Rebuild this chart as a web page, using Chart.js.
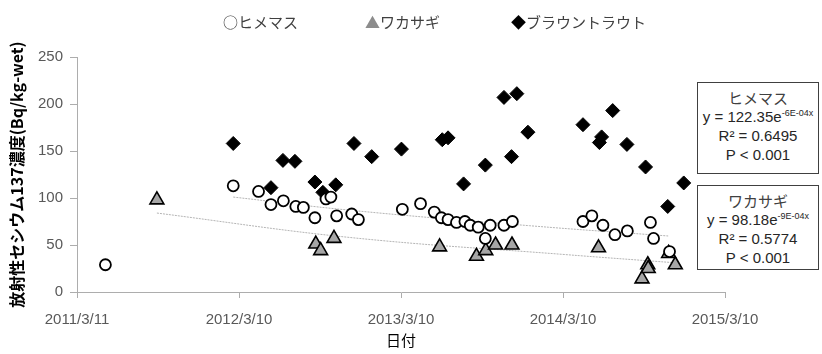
<!DOCTYPE html>
<html lang="ja">
<head>
<meta charset="utf-8">
<title>放射性セシウム137濃度</title>
<script src="https://cdn.jsdelivr.net/npm/chart.js@4.4.0/dist/chart.umd.min.js"></script>
<style>
  body { margin: 0; background: #fff; }
  #wrap { position: relative; width: 822px; height: 354px; }
  .legend-item {
    position: absolute; top: 11px; line-height: 22px; white-space: nowrap;
    font-family: 'Noto Sans CJK JP', sans-serif; font-size: 15px; color: #404040;
  }
  .fit-box {
    position: absolute; left: 697px; width: 122px; box-sizing: border-box;
    border: 1px solid #404040; background: #fff; text-align: center;
    font-family: 'Liberation Sans', Arial, sans-serif; font-size: 15px; color: #262626;
    padding-top: 5px;
  }
  .fit-box div { line-height: 19px; height: 19px; white-space: nowrap; }
  .fit-box .jp { font-family: 'Noto Sans CJK JP', sans-serif; color: #404040; }
  .fit-box sup { font-size: 9px; line-height: 0; vertical-align: 6px; }
</style>
</head>
<body>
<div id="wrap">
  <canvas id="chart" width="822" height="354"></canvas>

  <div class="legend-item" style="left:223px;">○ヒメマス</div>
  <div class="legend-item" style="left:365px;"><span style="color:#8c8c8c;">▲</span>ワカサギ</div>
  <div class="legend-item" style="left:511px;"><span style="color:#000;">◆</span>ブラウントラウト</div>

  <div class="fit-box" style="top:82px; height:92px;">
    <div class="jp">ヒメマス</div>
    <div>y = 122.35e<sup>-6E-04x</sup></div>
    <div>R² = 0.6495</div>
    <div>P &lt; 0.001</div>
  </div>
  <div class="fit-box" style="top:185px; height:85px;">
    <div class="jp">ワカサギ</div>
    <div>y = 98.18e<sup>-9E-04x</sup></div>
    <div>R² = 0.5774</div>
    <div>P &lt; 0.001</div>
  </div>
</div>

<script>
// x values are days after 2011/3/11
const tickLabels = ['2011/3/11', '2012/3/10', '2013/3/10', '2014/3/10', '2015/3/10'];

// ヒメマス (open circles)
const himeDays   = [64, 352, 409, 437, 465, 493, 510, 536, 561, 572, 585, 619, 634, 733, 774, 805, 821, 836,
                    855, 874, 886, 904, 920, 931, 962, 981, 1140, 1160, 1185, 1212, 1240, 1292, 1299, 1335];
const himeValues = [29, 113, 107, 93, 97, 91, 90, 79, 99, 101, 81, 83, 77, 88, 94, 85, 79, 77,
                    74, 75, 71, 69, 57, 71, 71, 75, 75, 81, 71, 61, 65, 74, 57, 43];

// ワカサギ (grey triangles)
const wakaDays   = [180, 538, 549, 579, 817, 900, 921, 943, 980, 1175, 1273, 1286, 1287, 1333, 1348];
const wakaValues = [98, 51, 44, 57, 48, 38, 44, 50, 50, 47, 14, 29, 25, 41, 29];

// ブラウントラウト (black diamonds)
const troutDays   = [352, 437, 464, 491, 536, 554, 583, 624, 664, 731, 823, 836, 871, 920, 962, 979, 991,
                     1016, 1140, 1177, 1182, 1207, 1239, 1281, 1331, 1367];
const troutValues = [158, 111, 140, 139, 117, 106, 114, 158, 144, 152, 162, 164, 115, 135, 207, 144, 211,
                     170, 178, 159, 165, 193, 157, 133, 91, 116];

// exponential trend lines
const himeTrendDays   = [352, 615, 1020, 1332];
const himeTrendValues = [101, 87, 70.5, 59.6];
const wakaTrendDays   = [180, 615, 1095, 1350];
const wakaTrendValues = [84, 58, 40, 31];

const toPoints = (xs, ys) => xs.map((x, i) => ({ x, y: ys[i] }));

const AXIS_GREY = '#ADADAD';
const TICK_FONT = { family: "'Liberation Sans', Arial, sans-serif", size: 15 };

new Chart(document.getElementById('chart'), {
  type: 'scatter',
  data: {
    datasets: [
      {
        label: 'ヒメマス',
        data: toPoints(himeDays, himeValues),
        pointStyle: 'circle',
        pointRadius: 5.5,
        pointBackgroundColor: '#fff',
        pointBorderColor: '#000',
        pointBorderWidth: 1.8
      },
      {
        label: 'ワカサギ',
        data: toPoints(wakaDays, wakaValues),
        pointStyle: 'triangle',
        pointRadius: 8,
        pointBackgroundColor: '#A6A6A6',
        pointBorderColor: '#000',
        pointBorderWidth: 1.6
      },
      {
        label: 'ブラウントラウト',
        data: toPoints(troutDays, troutValues),
        pointStyle: 'rectRot',
        pointRadius: 7,
        pointBackgroundColor: '#000',
        pointBorderColor: '#000',
        pointBorderWidth: 1
      },
      {
        label: 'ヒメマス trend',
        type: 'line',
        data: toPoints(himeTrendDays, himeTrendValues),
        borderColor: '#B4B4B4',
        borderWidth: 1,
        borderDash: [2, 1],
        pointRadius: 0,
        tension: 0.4,
        fill: false
      },
      {
        label: 'ワカサギ trend',
        type: 'line',
        data: toPoints(wakaTrendDays, wakaTrendValues),
        borderColor: '#B4B4B4',
        borderWidth: 1,
        borderDash: [2, 1],
        pointRadius: 0,
        tension: 0.4,
        fill: false
      }
    ]
  },
  options: {
    responsive: false,
    animation: false,
    layout: { padding: { top: 57, right: 97, bottom: 0, left: 0 } },
    plugins: {
      legend: { display: false },
      tooltip: { enabled: false }
    },
    scales: {
      x: {
        type: 'linear',
        min: 0,
        max: 1460,
        afterFit: (scale) => { scale.height = 62; },
        border: { display: true, color: AXIS_GREY, width: 1 },
        grid: { drawOnChartArea: false, drawTicks: true, tickLength: 6, color: AXIS_GREY },
        ticks: {
          stepSize: 365,
          padding: 13,
          color: '#595959',
          font: TICK_FONT,
          maxRotation: 0,
          callback: (v) => tickLabels[Math.round(v / 365)]
        },
        title: {
          display: true,
          text: '日付',
          color: '#000',
          font: { family: "'Noto Sans CJK JP', sans-serif", size: 15 },
          padding: { top: 0, bottom: 5 }
        }
      },
      y: {
        min: 0,
        max: 250,
        afterFit: (scale) => { scale.width = 77; },
        border: { display: true, color: AXIS_GREY, width: 1 },
        grid: { drawOnChartArea: false, drawTicks: true, tickLength: 7, color: AXIS_GREY },
        ticks: {
          stepSize: 50,
          padding: 7,
          color: '#595959',
          font: TICK_FONT
        },
        title: {
          display: true,
          text: '放射性セシウム137濃度(Bq/kg-wet)',
          color: '#000',
          font: { family: "'Noto Sans CJK JP', sans-serif", size: 16, weight: 'bold' },
          padding: { top: 7, bottom: 0 }
        }
      }
    }
  }
});
</script>
</body>
</html>
